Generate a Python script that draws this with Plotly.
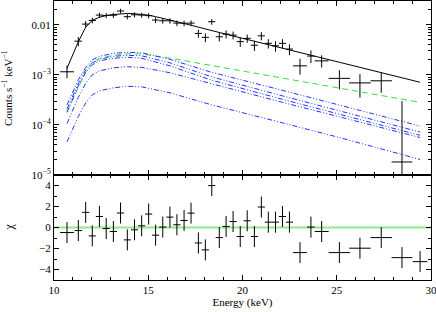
import plotly.graph_objects as go

# ---- data ----
energy = [10.69, 11.29, 11.68, 12.03, 12.41, 12.77, 13.15, 13.53, 13.89, 14.27,
          14.65, 15.02, 15.39, 15.77, 16.15, 16.52, 16.90, 17.27, 17.66, 18.03,
          18.37, 18.77, 19.13, 19.50, 19.88, 20.25, 20.63, 21.00, 21.37, 21.75,
          22.12, 22.49, 23.05, 23.63, 24.20, 25.14, 26.23, 27.36, 28.46, 29.42]
energy_hw = [0.37, 0.20, 0.19, 0.19, 0.19, 0.19, 0.19, 0.19, 0.19, 0.19,
             0.19, 0.19, 0.19, 0.19, 0.19, 0.19, 0.19, 0.19, 0.19, 0.19,
             0.19, 0.19, 0.19, 0.19, 0.19, 0.19, 0.19, 0.19, 0.19, 0.19,
             0.19, 0.19, 0.37, 0.20, 0.37, 0.57, 0.57, 0.57, 0.55, 0.39]
counts = [1.15e-3, 4.7e-3, 1.03e-2, 1.22e-2, 1.56e-2, 1.53e-2, 1.55e-2, 1.88e-2, 1.45e-2, 1.58e-2,
          1.56e-2, 1.52e-2, 1.24e-2, 1.20e-2, 1.20e-2, 1.08e-2, 1.07e-2, 1.08e-2, 6.7e-3, 5.6e-3,
          1.15e-2, 5.75e-3, 6.5e-3, 6.2e-3, 4.6e-3, 5.35e-3, 3.9e-3, 6.0e-3, 4.25e-3, 3.8e-3,
          4.25e-3, 3.27e-3, 1.51e-3, 2.37e-3, 1.9e-3, 8.5e-4, 6.9e-4, 7.6e-4, 1.82e-5, None]
counts_err_up = [3.8e-4, 1.0e-3, 1.5e-3, 1.6e-3, 1.8e-3, 1.8e-3, 1.8e-3, 2.0e-3, 1.7e-3, 1.8e-3,
                 1.8e-3, 1.8e-3, 1.6e-3, 1.5e-3, 1.5e-3, 1.4e-3, 1.4e-3, 1.4e-3, 1.2e-3, 1.1e-3,
                 1.5e-3, 1.1e-3, 1.2e-3, 1.1e-3, 1.0e-3, 1.0e-3, 9e-4, 1.1e-3, 9e-4, 9e-4,
                 9e-4, 8e-4, 5.8e-4, 7e-4, 5.5e-4, 3.8e-4, 3.4e-4, 3.4e-4, 2.8e-4, None]
counts_err_dn = [2.9e-4, 1.0e-3, 1.5e-3, 1.6e-3, 1.8e-3, 1.8e-3, 1.8e-3, 2.0e-3, 1.7e-3, 1.8e-3,
                 1.8e-3, 1.8e-3, 1.6e-3, 1.5e-3, 1.5e-3, 1.4e-3, 1.4e-3, 1.4e-3, 1.2e-3, 1.1e-3,
                 1.5e-3, 1.1e-3, 1.2e-3, 1.1e-3, 1.0e-3, 1.0e-3, 9e-4, 1.1e-3, 9e-4, 9e-4,
                 9e-4, 8e-4, 5.0e-4, 6.5e-4, 5.0e-4, 3.4e-4, 3.4e-4, 3.2e-4, 1.8199e-5, None]
model_total = [1.35e-3, 4.57e-3, 8.9e-3, 1.23e-2, 1.41e-2, 1.53e-2, 1.60e-2, 1.66e-2, 1.68e-2, 1.66e-2,
               1.62e-2, 1.55e-2, 1.45e-2, 1.35e-2, 1.245e-2, 1.148e-2, 1.06e-2, 9.77e-3, 8.91e-3, 8.22e-3,
               7.67e-3, 7.0e-3, 6.46e-3, 5.96e-3, 5.5e-3, 5.07e-3, 4.68e-3, 4.32e-3, 3.98e-3, 3.67e-3,
               3.39e-3, 3.13e-3, 2.78e-3, 2.45e-3, 2.16e-3, 1.78e-3, 1.41e-3, 1.11e-3, 8.7e-4, 7.1e-4]
residual = [-0.48, -0.29, 1.44, -0.80, 1.05, -0.10, -0.38, 1.38, -1.18, -0.22,
            0.16, 1.28, -0.73, 0.04, 0.99, 0.26, 0.67, 1.37, -1.47, -2.13,
            3.99, -0.96, 0.10, 0.57, -0.86, 0.64, -0.86, 1.95, 0.51, 0.51,
            1.05, 0.51, -2.39, 0.04, -0.38, -2.39, -1.97, -0.96, -2.87, -3.25]
residual_err = [1.0] * len(residual)

comp_energy = [10.69, 11.29, 11.68, 12.03, 12.41, 13.15, 13.89, 14.65, 16.15, 18.37, 22.12, 25.14, 29.42]
comp_green = [1.82e-4, 5.75e-4, 1.15e-3, 1.78e-3, 2.14e-3, 2.45e-3, 2.63e-3, 2.6e-3, 2.16e-3, 1.53e-3, 8.6e-4, 5.43e-4, 2.82e-4]
comp_blue_a = [2.51e-4, 7.94e-4, 1.41e-3, 2.0e-3, 2.34e-3, 2.69e-3, 2.82e-3, 2.75e-3, 2.04e-3, 1.12e-3, 4.9e-4, 2.51e-4, 9.5e-5]
comp_blue_b = [2.09e-4, 6.76e-4, 1.26e-3, 1.74e-3, 2.04e-3, 2.34e-3, 2.45e-3, 2.4e-3, 1.74e-3, 9.1e-4, 3.8e-4, 1.9e-4, 7.2e-5]
comp_blue_c = [1.78e-4, 6.0e-4, 1.12e-3, 1.58e-3, 1.9e-3, 2.14e-3, 2.24e-3, 2.14e-3, 1.51e-3, 7.8e-4, 3.24e-4, 1.62e-4, 6.2e-5]
comp_blue_d = [1.07e-4, 3.55e-4, 6.76e-4, 1.0e-3, 1.2e-3, 1.38e-3, 1.45e-3, 1.41e-3, 1.1e-3, 6.6e-4, 2.82e-4, 1.45e-4, 5.6e-5]
comp_blue_e = [4.6e-5, 1.48e-4, 2.75e-4, 3.98e-4, 4.8e-4, 5.5e-4, 5.9e-4, 5.75e-4, 4.37e-4, 2.51e-4, 1.1e-4, 5.6e-5, 2.04e-5]

zero_line_x = [10, 30]
zero_line_y = [0, 0]

y_tickvals = [1e-5, 1e-4, 1e-3, 1e-2]
y_ticktext = ["10<sup>−5</sup>", "10<sup>−4</sup>", "10<sup>−3</sup>", "0.01"]
y_minor = [m * 10.0 ** e for e in (-5, -4, -3, -2) for m in range(2, 10)]

FONT = "Liberation Serif"
BLUE_DASH = "5px,2px,1px,2px,1px,2px"

fig = go.Figure()

# model components
fig.add_trace(go.Scatter(x=comp_energy, y=comp_green, mode="lines",
                         line=dict(color="#33e033", width=1, dash="6px,4px"),
                         xaxis="x", yaxis="y"))
for comp in (comp_blue_a, comp_blue_b, comp_blue_c, comp_blue_d, comp_blue_e):
    fig.add_trace(go.Scatter(x=comp_energy, y=comp, mode="lines",
                             line=dict(color="#2233ff", width=1, dash=BLUE_DASH),
                             xaxis="x", yaxis="y"))

# total model
fig.add_trace(go.Scatter(x=energy, y=model_total, mode="lines",
                         line=dict(color="black", width=1), xaxis="x", yaxis="y"))

# data
fig.add_trace(go.Scatter(
    x=energy, y=counts, mode="markers",
    marker=dict(size=1, color="black", opacity=0),
    error_x=dict(type="data", array=energy_hw, color="black", thickness=1, width=0),
    error_y=dict(type="data", array=counts_err_up, arrayminus=counts_err_dn,
                 symmetric=False, color="black", thickness=1, width=0),
    xaxis="x", yaxis="y"))

# residual panel
fig.add_trace(go.Scatter(x=zero_line_x, y=zero_line_y, mode="lines",
                         line=dict(color="#88ee88", width=2), xaxis="x2", yaxis="y2"))
fig.add_trace(go.Scatter(
    x=energy, y=residual, mode="markers",
    marker=dict(size=1, color="black", opacity=0),
    error_x=dict(type="data", array=energy_hw, color="black", thickness=1, width=0),
    error_y=dict(type="data", array=residual_err, color="black", thickness=1, width=0),
    xaxis="x2", yaxis="y2"))

axis_common = dict(showline=True, linecolor="black", linewidth=1, mirror="allticks",
                   ticks="inside", tickcolor="black", ticklen=5, tickwidth=1,
                   showgrid=False, zeroline=False, automargin=False,
                   ticklabeloverflow="allow",
                   tickfont=dict(family=FONT, size=11, color="black"))

split = 105 / 279

fig.update_layout(
    width=436, height=312,
    margin=dict(l=54, r=5, t=1, b=32),
    paper_bgcolor="white", plot_bgcolor="white",
    showlegend=False,
    font=dict(family=FONT, size=11, color="black"),
    xaxis=dict(**axis_common, range=[10, 30], domain=[0, 1], anchor="y",
               dtick=5, tick0=10, showticklabels=False,
               minor=dict(ticks="inside", dtick=1, ticklen=3, tickcolor="black", showgrid=False)),
    yaxis=dict(**axis_common, type="log", range=[-5, -1.526], domain=[split, 1], anchor="x",
               tickvals=y_tickvals, ticktext=y_ticktext,
               minor=dict(ticks="inside", tickvals=y_minor, ticklen=3, tickcolor="black", showgrid=False)),
    xaxis2=dict(**axis_common, range=[10, 30], domain=[0, 1], anchor="y2",
                dtick=5, tick0=10,
                minor=dict(ticks="inside", dtick=1, ticklen=3, tickcolor="black", showgrid=False),
                title=dict(text="Energy (keV)", standoff=3, font=dict(family=FONT, size=11))),
    yaxis2=dict(**axis_common, range=[-5, 5], domain=[0, split], anchor="x2",
                tickvals=[-4, -2, 0, 2, 4], ticktext=["−4", "−2", "0", "2", "4"],
                minor=dict(ticks="inside", dtick=1, ticklen=3, tickcolor="black", showgrid=False)),
    annotations=[
        dict(text="Counts s<sup>−1</sup> keV<sup>−1</sup>", xref="paper", yref="paper",
             x=0, y=(split + 1) / 2, xanchor="center", yanchor="middle",
             xshift=-47, textangle=-90, showarrow=False,
             font=dict(family=FONT, size=11, color="black")),
        dict(text="χ", xref="paper", yref="paper",
             x=0, y=split / 2, xanchor="center", yanchor="middle",
             xshift=-45, textangle=-90, showarrow=False,
             font=dict(family=FONT, size=12, color="black")),
    ],
)

fig.write_html("out.html", config={"displayModeBar": False},
               post_script="document.body.style.margin='0';document.body.style.padding='0';")
